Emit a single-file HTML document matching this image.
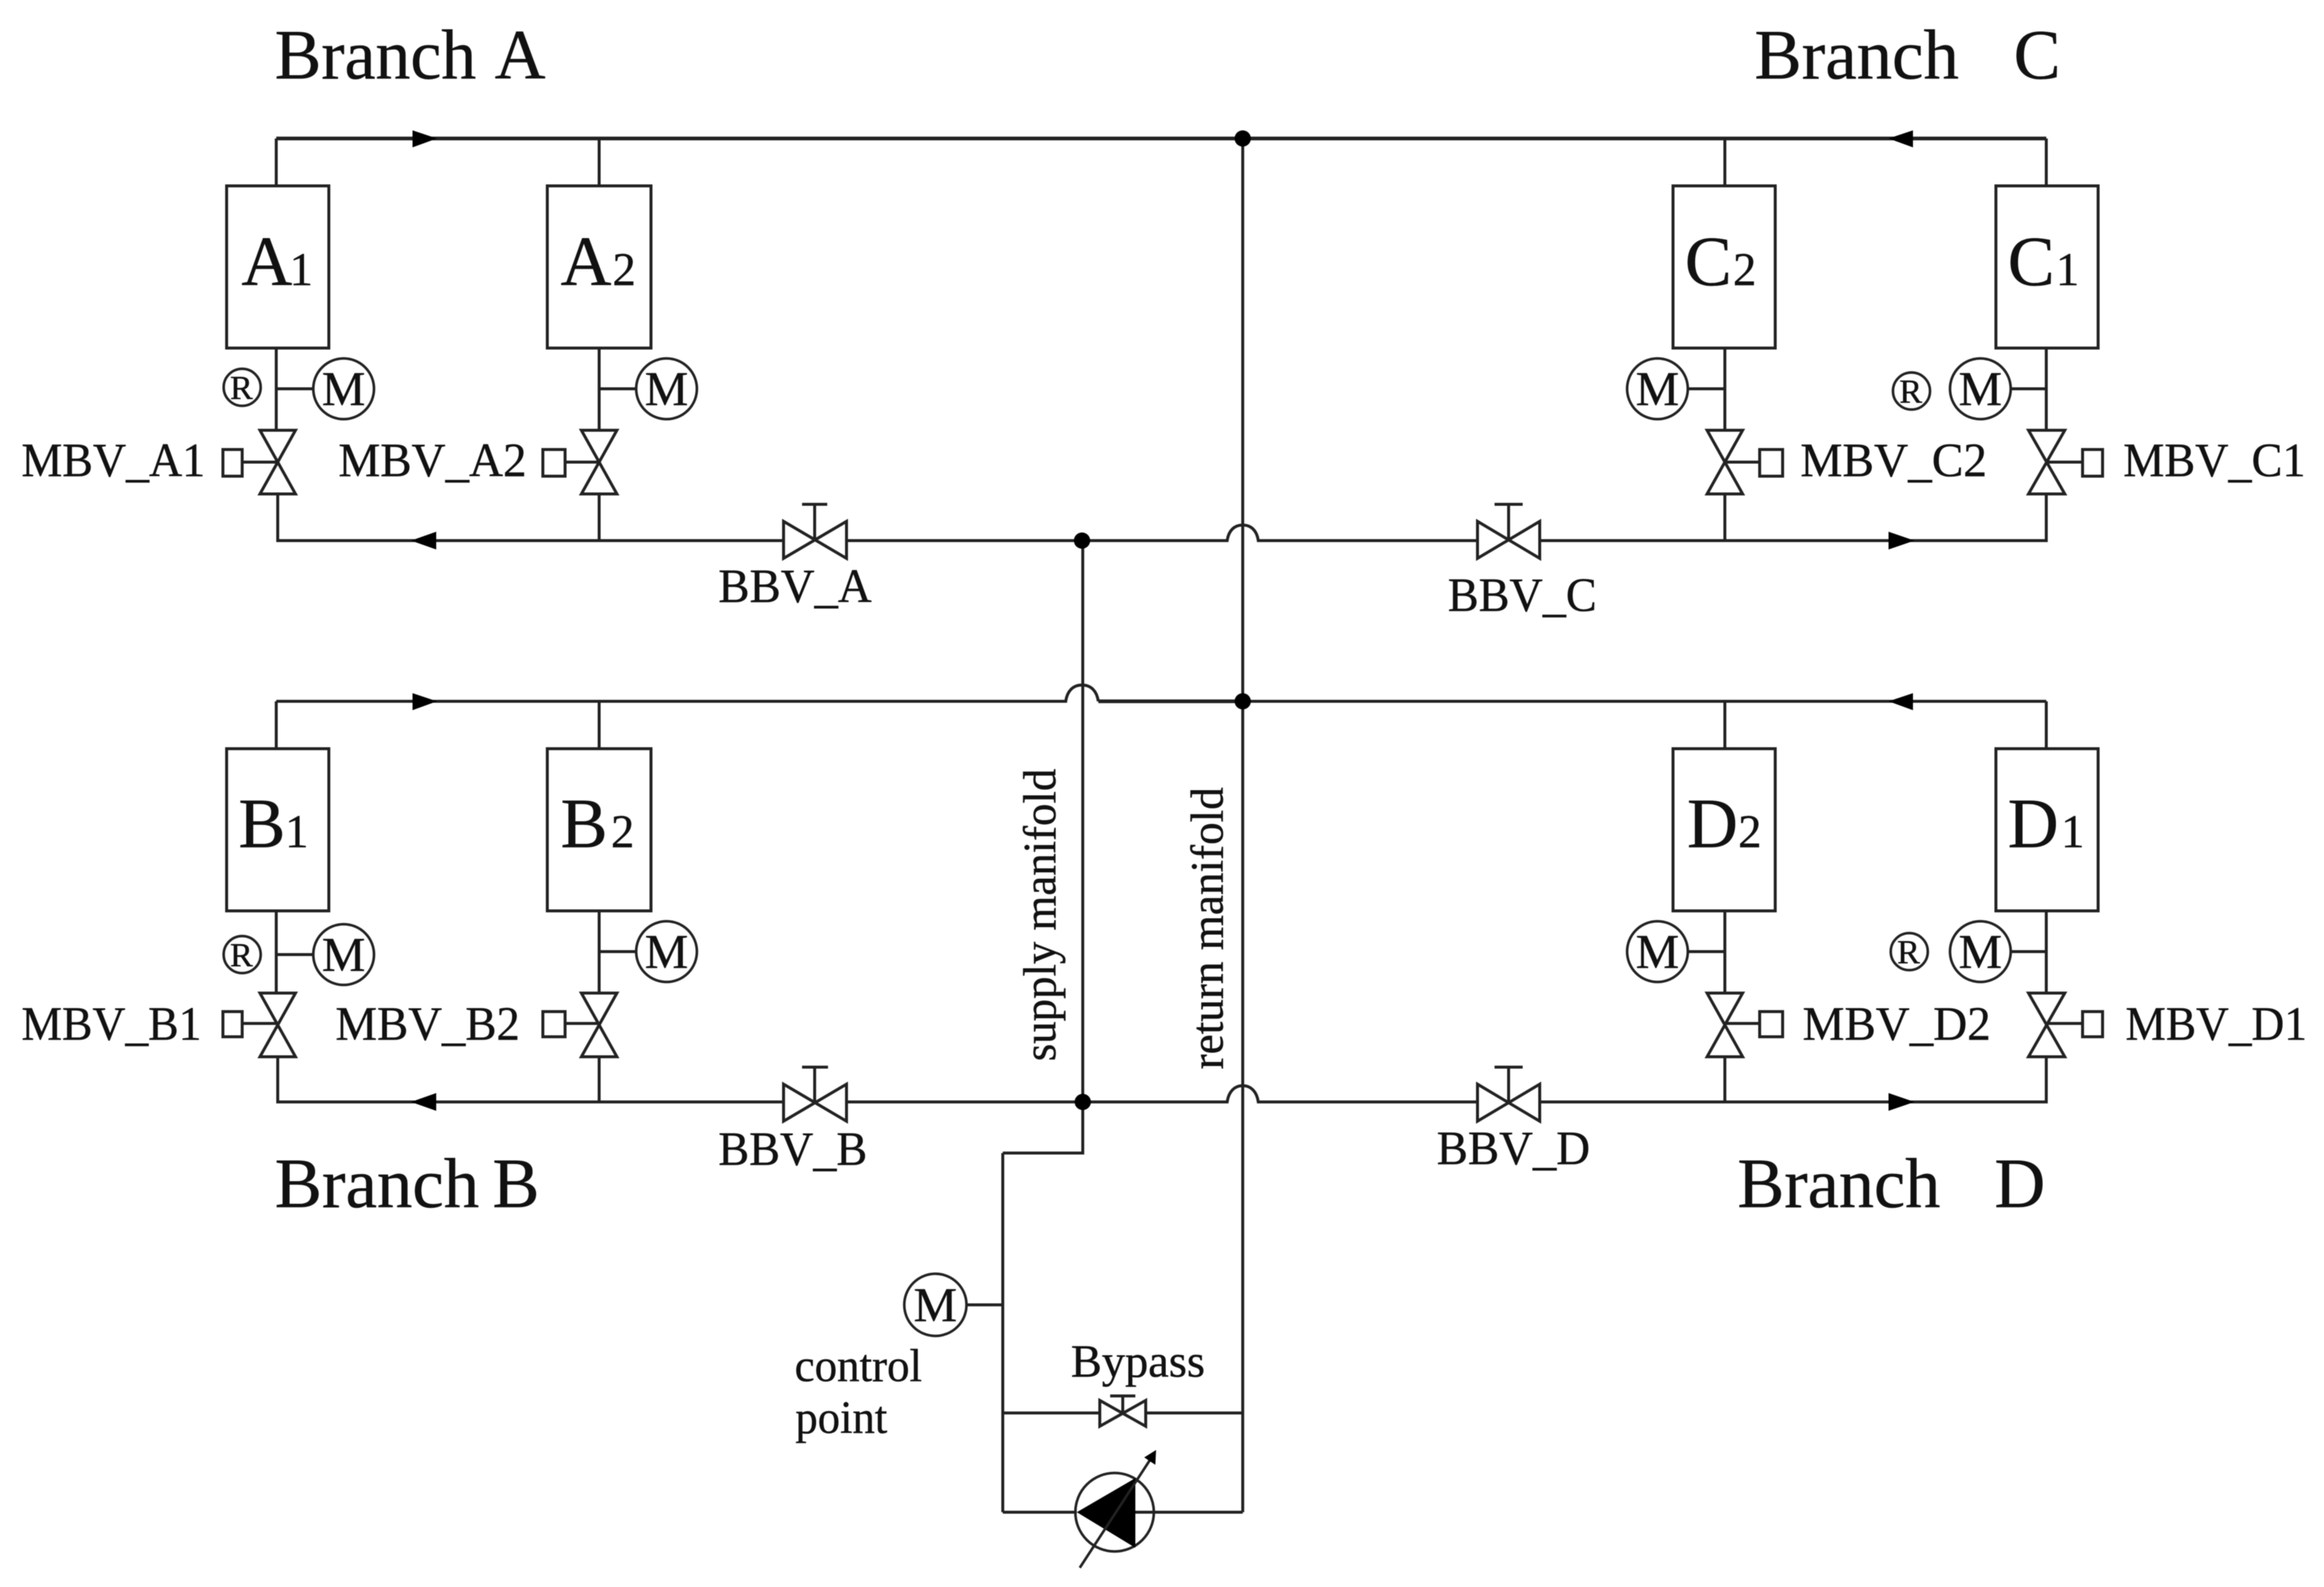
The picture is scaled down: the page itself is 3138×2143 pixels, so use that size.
<!DOCTYPE html>
<html>
<head>
<meta charset="utf-8">
<style>
html,body{margin:0;padding:0;background:#fff;width:3138px;height:2143px;overflow:hidden}
svg{display:block;filter:blur(0.6px)}
text{font-family:"Liberation Serif",serif;fill:#111;stroke:#111;stroke-width:0.5}
.b{font-size:95px}
.s{font-size:65px}
.d{font-size:63px}
.l{font-size:62px}
.m{font-size:66px;text-anchor:middle}
.r{font-size:46px;text-anchor:middle}
.p{fill:none;stroke:#222;stroke-width:4;stroke-linejoin:miter}
.t{fill:none;stroke:#222;stroke-width:5}
.c{fill:#fff;stroke:#222;stroke-width:3.5}
.k{fill:#000;stroke:none}
</style>
</head>
<body>
<svg xmlns="http://www.w3.org/2000/svg" width="3138" height="2143" viewBox="0 0 3138 2143">
<rect width="3138" height="2143" fill="#fff"/>

<!-- manifolds and main lines -->
<path class="t" d="M373 187H2763"/>
<path class="p" d="M373 251V187M809 251V187M2329 251V187M2763 251V187"/>
<path class="p" d="M375 667V730H1057M1143 730H1657C1659 716 1667 709 1678 709C1689 709 1697 716 1699 730H1995M2079 730H2763V667M809 667V730M2329 667V730"/>
<path class="p" d="M373 947H1439C1441 933 1449 925 1461 925C1473 925 1481 933 1483 947M1678 947H2763"/>
<path class="t" d="M1483 947H1678"/>
<path class="p" d="M373 1011V947M809 1011V947M2329 1011V947M2763 1011V947"/>
<path class="p" d="M375 1427V1488H1057M1144 1488H1657C1659 1474 1667 1466 1678 1466C1689 1466 1697 1474 1699 1488H1995M2079 1488H2763V1427M809 1427V1488M2329 1427V1488"/>
<path class="p" d="M1678 187V2042M1462 730V1557H1354"/>
<path class="p" d="M1354 1557V2042M1354 1908H1485M1547 1908H1678M1221 1762H1354"/>

<!-- junction dots -->
<circle class="k" cx="1678" cy="187" r="11"/>
<circle class="k" cx="1461" cy="730" r="11"/>
<circle class="k" cx="1678" cy="947" r="11"/>
<circle class="k" cx="1462" cy="1488" r="11"/>

<!-- flow arrows -->
<polygon class="k" points="557,176 590,187 557,199"/>
<polygon class="k" points="2583,176 2550,187 2583,199"/>
<polygon class="k" points="589,718 555,730 589,742"/>
<polygon class="k" points="2550,718 2585,730 2550,742"/>
<polygon class="k" points="557,936 590,947 557,959"/>
<polygon class="k" points="2583,936 2550,947 2583,959"/>
<polygon class="k" points="589,1476 555,1488 589,1500"/>
<polygon class="k" points="2550,1476 2585,1488 2550,1500"/>

<!-- boxes -->
<rect class="p" x="306" y="251" width="138" height="219"/>
<rect class="p" x="739" y="251" width="140" height="219"/>
<rect class="p" x="2259" y="251" width="138" height="219"/>
<rect class="p" x="2695" y="251" width="138" height="219"/>
<rect class="p" x="306" y="1011" width="138" height="219"/>
<rect class="p" x="739" y="1011" width="140" height="219"/>
<rect class="p" x="2259" y="1011" width="138" height="219"/>
<rect class="p" x="2695" y="1011" width="138" height="219"/>

<!-- upper risers, ties, valves -->
<path class="p" d="M373 470V581M373 525H423M809 470V581M809 525H858M2329 470V581M2279 525H2329M2763 470V581M2715 525H2763"/>
<path class="p" d="M351 581H399L351 667H399ZM327 624H375"/>
<path class="p" d="M785 581H833L785 667H833ZM763 624H809"/>
<path class="p" d="M2305 581H2353L2305 667H2353ZM2329 624H2376"/>
<path class="p" d="M2739 581H2788L2739 667H2788ZM2763 624H2812"/>
<rect class="p" x="301" y="607" width="26" height="36"/>
<rect class="p" x="733" y="607" width="30" height="36"/>
<rect class="p" x="2376" y="607" width="31" height="36"/>
<rect class="p" x="2812" y="607" width="27" height="36"/>

<!-- lower risers, ties, valves -->
<path class="p" d="M373 1230V1341M373 1289H423M809 1230V1341M809 1285H858M2329 1230V1341M2279 1285H2329M2763 1230V1341M2715 1285H2763"/>
<path class="p" d="M351 1341H399L351 1427H399ZM327 1382H375"/>
<path class="p" d="M785 1341H833L785 1427H833ZM763 1382H809"/>
<path class="p" d="M2305 1341H2353L2305 1427H2353ZM2329 1382H2376"/>
<path class="p" d="M2739 1341H2788L2739 1427H2788ZM2763 1382H2812"/>
<rect class="p" x="301" y="1366" width="26" height="34"/>
<rect class="p" x="733" y="1366" width="30" height="34"/>
<rect class="p" x="2376" y="1366" width="31" height="34"/>
<rect class="p" x="2812" y="1366" width="27" height="34"/>

<!-- balancing valves -->
<path class="p" d="M1058 704L1143 754V704L1058 754ZM1100 729V681M1083 681H1117"/>
<path class="p" d="M1995 704L2079 754V704L1995 754ZM2037 729V681M2018 681H2056"/>
<path class="p" d="M1058 1464L1143 1514V1464L1058 1514ZM1100 1488V1441M1083 1441H1118"/>
<path class="p" d="M1995 1464L2079 1514V1464L1995 1514ZM2037 1488V1441M2018 1441H2056"/>
<path class="p" d="M1485 1891L1547 1926V1891L1485 1926ZM1516 1908V1885M1499 1885H1533"/>

<!-- M sensors -->
<circle class="c" cx="464" cy="525" r="41"/><text class="m" x="464" y="547">M</text>
<circle class="c" cx="900" cy="525" r="41"/><text class="m" x="900" y="547">M</text>
<circle class="c" cx="2238" cy="525" r="41"/><text class="m" x="2238" y="547">M</text>
<circle class="c" cx="2674" cy="525" r="41"/><text class="m" x="2674" y="547">M</text>
<circle class="c" cx="464" cy="1289" r="41"/><text class="m" x="464" y="1311">M</text>
<circle class="c" cx="900" cy="1285" r="41"/><text class="m" x="900" y="1307">M</text>
<circle class="c" cx="2238" cy="1285" r="41"/><text class="m" x="2238" y="1307">M</text>
<circle class="c" cx="2674" cy="1285" r="41"/><text class="m" x="2674" y="1307">M</text>
<circle class="c" cx="1263" cy="1762" r="42"/><text class="m" x="1263" y="1784">M</text>

<!-- R marks -->
<circle class="c" cx="327" cy="523" r="25"/><text class="r" x="326" y="539">R</text>
<circle class="c" cx="2581" cy="528" r="25"/><text class="r" x="2580" y="544">R</text>
<circle class="c" cx="327" cy="1289" r="25"/><text class="r" x="326" y="1305">R</text>
<circle class="c" cx="2578" cy="1285" r="25"/><text class="r" x="2577" y="1301">R</text>

<!-- pump -->
<circle class="c" cx="1505" cy="2042" r="53" style="fill:none"/>
<path class="p" d="M1354 2042H1454M1533 2042H1678"/>
<polygon class="k" points="1454,2042 1533,1996 1533,2090"/>
<path class="p" style="stroke-width:3.5" d="M1458 2117L1555 1968"/>
<polygon class="k" points="1561,1958 1560,1978 1545,1968"/>

<!-- branch titles -->
<text class="b" x="371" y="106" textLength="272" lengthAdjust="spacingAndGlyphs">Branch</text>
<text class="b" x="668" y="106">A</text>
<text class="b" x="2369" y="106" textLength="276" lengthAdjust="spacingAndGlyphs">Branch</text>
<text class="b" x="2719" y="106">C</text>
<text class="b" x="371" y="1630" textLength="276" lengthAdjust="spacingAndGlyphs">Branch</text>
<text class="b" x="665" y="1630">B</text>
<text class="b" x="2346" y="1630" textLength="274" lengthAdjust="spacingAndGlyphs">Branch</text>
<text class="b" x="2693" y="1630">D</text>

<!-- box labels -->
<text class="b" x="326" y="385">A</text><text class="d" x="391" y="385">1</text>
<text class="b" x="757" y="385">A</text><text class="d" x="827" y="385">2</text>
<text class="b" x="2275" y="385">C</text><text class="d" x="2340" y="385">2</text>
<text class="b" x="2711" y="385">C</text><text class="d" x="2776" y="385">1</text>
<text class="b" x="322" y="1144">B</text><text class="d" x="385" y="1144">1</text>
<text class="b" x="757" y="1144">B</text><text class="d" x="825" y="1144">2</text>
<text class="b" x="2278" y="1144">D</text><text class="d" x="2347" y="1144">2</text>
<text class="b" x="2711" y="1144">D</text><text class="d" x="2783" y="1144">1</text>

<!-- valve labels -->
<text class="s" x="29" y="643" textLength="248" lengthAdjust="spacingAndGlyphs">MBV_A1</text>
<text class="s" x="457" y="643" textLength="254" lengthAdjust="spacingAndGlyphs">MBV_A2</text>
<text class="s" x="2431" y="643" textLength="252" lengthAdjust="spacingAndGlyphs">MBV_C2</text>
<text class="s" x="2867" y="643" textLength="246" lengthAdjust="spacingAndGlyphs">MBV_C1</text>
<text class="s" x="29" y="1404" textLength="243" lengthAdjust="spacingAndGlyphs">MBV_B1</text>
<text class="s" x="453" y="1404" textLength="249" lengthAdjust="spacingAndGlyphs">MBV_B2</text>
<text class="s" x="2434" y="1404" textLength="254" lengthAdjust="spacingAndGlyphs">MBV_D2</text>
<text class="s" x="2870" y="1404" textLength="245" lengthAdjust="spacingAndGlyphs">MBV_D1</text>
<text class="s" x="970" y="813" textLength="207" lengthAdjust="spacingAndGlyphs">BBV_A</text>
<text class="s" x="1955" y="825" textLength="201" lengthAdjust="spacingAndGlyphs">BBV_C</text>
<text class="s" x="970" y="1573" textLength="201" lengthAdjust="spacingAndGlyphs">BBV_B</text>
<text class="s" x="1940" y="1572" textLength="207" lengthAdjust="spacingAndGlyphs">BBV_D</text>

<!-- other labels -->
<text class="l" x="1446" y="1859" textLength="181" lengthAdjust="spacingAndGlyphs">Bypass</text>
<text class="l" x="1073" y="1865" textLength="172" lengthAdjust="spacingAndGlyphs">control</text>
<text class="l" x="1074" y="1935" textLength="124" lengthAdjust="spacingAndGlyphs">point</text>
<text class="l" transform="translate(1425 1433) rotate(-90)" textLength="395" lengthAdjust="spacingAndGlyphs">supply manifold</text>
<text class="l" transform="translate(1651 1444) rotate(-90)" textLength="381" lengthAdjust="spacingAndGlyphs">return manifold</text>
</svg>
</body>
</html>
